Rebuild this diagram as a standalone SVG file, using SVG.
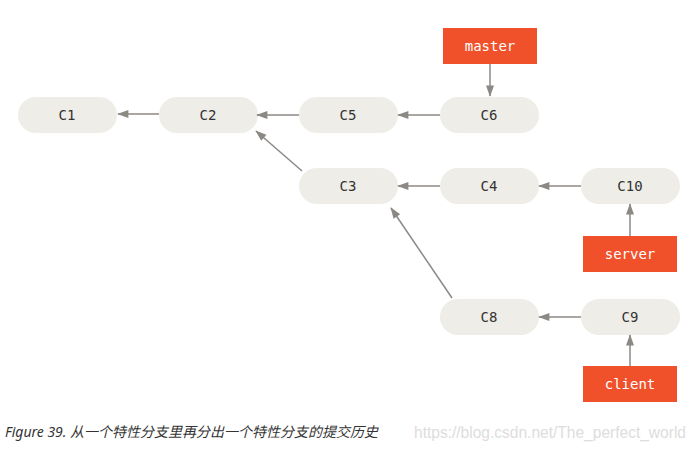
<svg xmlns="http://www.w3.org/2000/svg" width="699" height="452" viewBox="0 0 699 452">
<style>
.n rect{fill:#efede7}
.n text{font-family:"DejaVu Sans Mono","Liberation Mono",monospace;font-size:14px;fill:#333;text-anchor:middle}
.b rect{fill:#f0502a}
.b text{font-family:"DejaVu Sans Mono","Liberation Mono",monospace;font-size:14px;fill:#fff;text-anchor:middle}
.e line{stroke:#8c8884;stroke-width:1.5;marker-end:url(#a)}
</style>
<defs><marker id="a" viewBox="0 0 10 10" refX="9" refY="5" markerWidth="8" markerHeight="8" orient="auto" markerUnits="userSpaceOnUse" overflow="visible"><path d="M-4,0 L10,5 L-4,10 z" fill="#8c8884"/></marker></defs>
<rect width="699" height="452" fill="#fff"/>
<g id="C1" class="n"><rect x="18" y="97" width="99" height="36" rx="18"/><text x="67" y="120">C1</text></g>
<g id="C2" class="n"><rect x="159" y="97" width="99" height="36" rx="18"/><text x="208" y="120">C2</text></g>
<g id="C5" class="n"><rect x="299" y="97" width="99" height="36" rx="18"/><text x="348" y="120">C5</text></g>
<g id="C6" class="n"><rect x="440" y="97" width="99" height="36" rx="18"/><text x="489" y="120">C6</text></g>
<g id="C3" class="n"><rect x="299" y="168" width="99" height="36" rx="18"/><text x="348" y="191">C3</text></g>
<g id="C4" class="n"><rect x="440" y="168" width="99" height="36" rx="18"/><text x="489" y="191">C4</text></g>
<g id="C10" class="n"><rect x="581" y="168" width="99" height="36" rx="18"/><text x="630" y="191">C10</text></g>
<g id="C8" class="n"><rect x="440" y="299" width="99" height="36" rx="18"/><text x="489" y="322">C8</text></g>
<g id="C9" class="n"><rect x="581" y="299" width="99" height="36" rx="18"/><text x="630" y="322">C9</text></g>
<g id="master" class="b"><rect x="443" y="28" width="94" height="36"/><text x="490" y="51">master</text></g>
<g id="server" class="b"><rect x="583" y="236" width="94" height="36"/><text x="630" y="259">server</text></g>
<g id="client" class="b"><rect x="583" y="366" width="94" height="36"/><text x="630" y="389">client</text></g>
<g id="edges" class="e">
<line x1="159" y1="114" x2="118" y2="114"/>
<line x1="299" y1="115" x2="257" y2="115"/>
<line x1="440" y1="115" x2="398" y2="115"/>
<line x1="302" y1="171" x2="256" y2="131"/>
<line x1="440" y1="186" x2="398" y2="186"/>
<line x1="581" y1="186" x2="539" y2="186"/>
<line x1="452" y1="298" x2="391" y2="208"/>
<line x1="581" y1="317" x2="539" y2="317"/>
<line x1="490" y1="64" x2="490" y2="96"/>
<line x1="630" y1="236" x2="630" y2="204"/>
<line x1="630" y1="366" x2="630" y2="335"/>
</g>
<text x="5" y="437" font-family="'Noto Sans','Noto Sans CJK SC',sans-serif" font-style="italic" font-size="14" fill="#333" textLength="373" lengthAdjust="spacingAndGlyphs">Figure 39. 从一个特性分支里再分出一个特性分支的提交历史</text>
<text x="414" y="438" font-family="'Liberation Sans',sans-serif" font-size="16" fill="#ddd" textLength="272" lengthAdjust="spacingAndGlyphs">https://blog.csdn.net/The_perfect_world</text>
</svg>
